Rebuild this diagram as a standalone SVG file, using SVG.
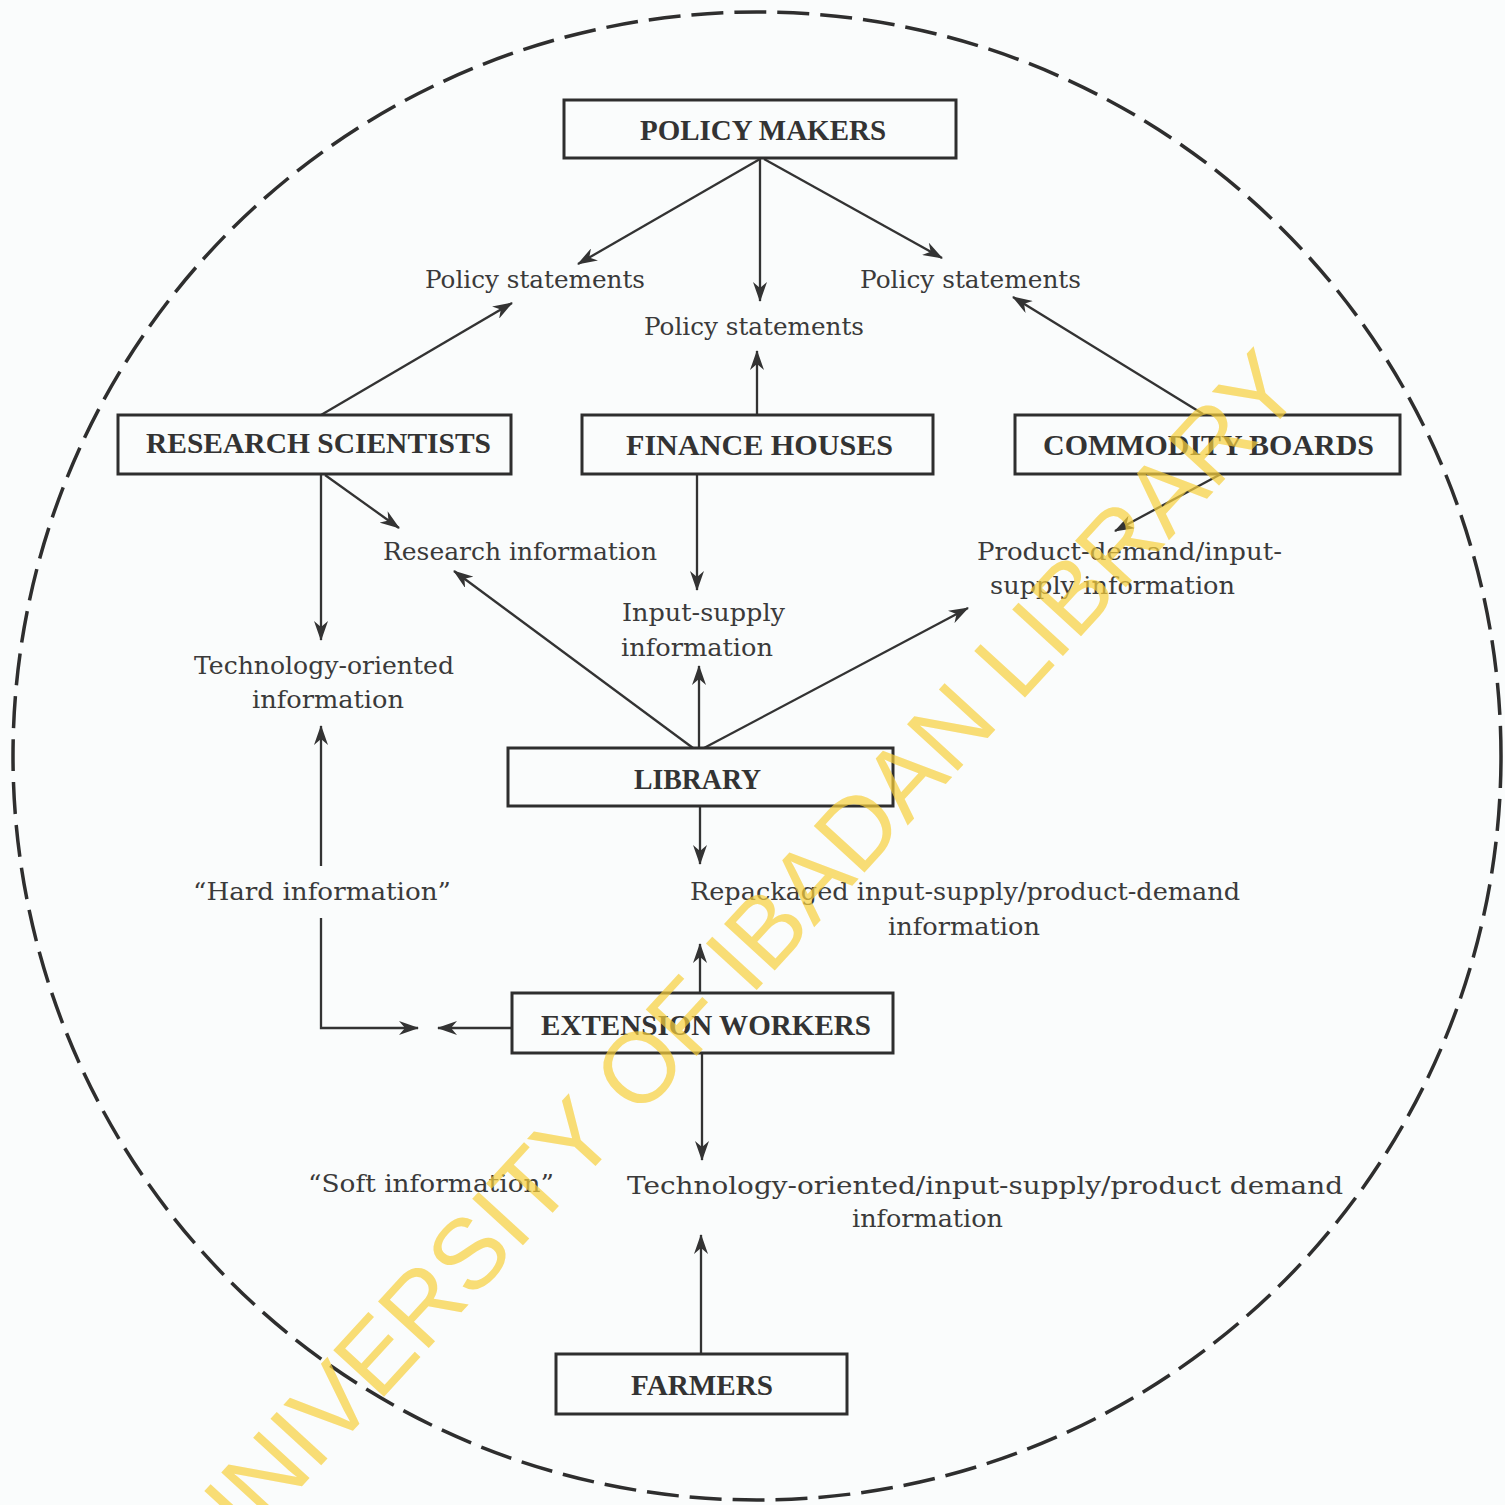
<svg xmlns="http://www.w3.org/2000/svg" width="1505" height="1505" viewBox="0 0 1505 1505">
<style>
.box{fill:none;stroke:#2e2e2e;stroke-width:3}
.bl{font-family:"Liberation Serif","Times New Roman",serif;font-weight:bold;font-size:29px;fill:#333}
.lb{font-family:"DejaVu Serif","Liberation Serif",serif;font-size:24.5px;fill:#3a3a3a}
.cn{fill:none;stroke:#333;stroke-width:2.3;marker-end:url(#ah)}
.wm{font-family:"Liberation Sans",Arial,sans-serif;font-size:100px;fill:#f8d03c;opacity:0.7}
</style>
<defs>
<marker id="ah" markerUnits="userSpaceOnUse" markerWidth="20" markerHeight="14" refX="19" refY="7" orient="auto" viewBox="0 0 20 14">
<path d="M0,0 L20,7 L0,14 L6,7 z" fill="#333"/>
</marker>
</defs>
<rect x="0" y="0" width="1505" height="1505" fill="#fafcfc"/>
<circle cx="757" cy="756" r="744" fill="none" stroke="#2e2e2e" stroke-width="3.5" stroke-dasharray="32 11"/>

<g id="connectors">
<path class="cn" d="M760,159 L578,264"/>
<path class="cn" d="M760,159 L760,301"/>
<path class="cn" d="M764,159 L942,258"/>
<path class="cn" d="M321,415 L512,303"/>
<path class="cn" d="M757,415 L757,351"/>
<path class="cn" d="M1203,414 L1013,297"/>
<path class="cn" d="M321,474 L321,640"/>
<path class="cn" d="M325,475 L399,528"/>
<path class="cn" d="M697,474 L697,590"/>
<path class="cn" d="M1221,474 L1115,531"/>
<path class="cn" d="M693,748 L454,571"/>
<path class="cn" d="M699,748 L699,666"/>
<path class="cn" d="M704,748 L968,608"/>
<path class="cn" d="M700,806 L700,864"/>
<path class="cn" d="M700,993 L700,944"/>
<path class="cn" d="M702,1053 L702,1160"/>
<path class="cn" d="M701,1354 L701,1235"/>
<path class="cn" d="M321,866 L321,726"/>
<path class="cn" d="M321,918 L321,1028 L418,1028"/>
<path class="cn" d="M512,1028 L438,1028"/>
</g>

<g id="policy-makers">
<rect class="box" x="564" y="100" width="392" height="58"/>
<text class="bl" x="640" y="140" textLength="246" lengthAdjust="spacingAndGlyphs">POLICY MAKERS</text>
</g>
<g id="research-scientists">
<rect class="box" x="118" y="415" width="393" height="59"/>
<text class="bl" x="146" y="453" textLength="345" lengthAdjust="spacingAndGlyphs">RESEARCH SCIENTISTS</text>
</g>
<g id="finance-houses">
<rect class="box" x="582" y="415" width="351" height="59"/>
<text class="bl" x="626" y="455" textLength="267" lengthAdjust="spacingAndGlyphs">FINANCE HOUSES</text>
</g>
<g id="commodity-boards">
<rect class="box" x="1015" y="415" width="385" height="59"/>
<text class="bl" x="1043" y="455" textLength="331" lengthAdjust="spacingAndGlyphs">COMMODITY BOARDS</text>
</g>
<g id="library">
<rect class="box" x="508" y="748" width="385" height="58"/>
<text class="bl" x="634" y="789" textLength="127" lengthAdjust="spacingAndGlyphs">LIBRARY</text>
</g>
<g id="extension-workers">
<rect class="box" x="512" y="993" width="381" height="60"/>
<text class="bl" x="541" y="1035" textLength="330" lengthAdjust="spacingAndGlyphs">EXTENSION WORKERS</text>
</g>
<g id="farmers">
<rect class="box" x="556" y="1354" width="291" height="60"/>
<text class="bl" x="631" y="1395" textLength="142" lengthAdjust="spacingAndGlyphs">FARMERS</text>
</g>

<g id="labels">
<text class="lb" x="425" y="288" textLength="220" lengthAdjust="spacingAndGlyphs">Policy statements</text>
<text class="lb" x="644" y="335" textLength="220" lengthAdjust="spacingAndGlyphs">Policy statements</text>
<text class="lb" x="860" y="288" textLength="221" lengthAdjust="spacingAndGlyphs">Policy statements</text>
<text class="lb" x="383" y="560" textLength="274" lengthAdjust="spacingAndGlyphs">Research information</text>
<text class="lb" x="622" y="621" textLength="163" lengthAdjust="spacingAndGlyphs">Input-supply</text>
<text class="lb" x="621" y="656" textLength="152" lengthAdjust="spacingAndGlyphs">information</text>
<text class="lb" x="977" y="560" textLength="305" lengthAdjust="spacingAndGlyphs">Product-demand/input-</text>
<text class="lb" x="990" y="594" textLength="245" lengthAdjust="spacingAndGlyphs">supply information</text>
<text class="lb" x="194" y="674" textLength="260" lengthAdjust="spacingAndGlyphs">Technology-oriented</text>
<text class="lb" x="252" y="708" textLength="152" lengthAdjust="spacingAndGlyphs">information</text>
<text class="lb" x="193" y="900" textLength="258" lengthAdjust="spacingAndGlyphs">“Hard information”</text>
<text class="lb" x="690" y="900" textLength="550" lengthAdjust="spacingAndGlyphs">Repackaged input-supply/product-demand</text>
<text class="lb" x="888" y="935" textLength="152" lengthAdjust="spacingAndGlyphs">information</text>
<text class="lb" x="308" y="1192" textLength="246" lengthAdjust="spacingAndGlyphs">“Soft information”</text>
<text class="lb" x="627" y="1194" textLength="716" lengthAdjust="spacingAndGlyphs">Technology-oriented/input-supply/product demand</text>
<text class="lb" x="852" y="1227" textLength="151" lengthAdjust="spacingAndGlyphs">information</text>
</g>

<g id="watermark">
<text class="wm" transform="translate(218,1578) rotate(-47.5)" textLength="1610" lengthAdjust="spacingAndGlyphs">UNIVERSITY OF IBADAN LIBRARY</text>
</g>
</svg>
